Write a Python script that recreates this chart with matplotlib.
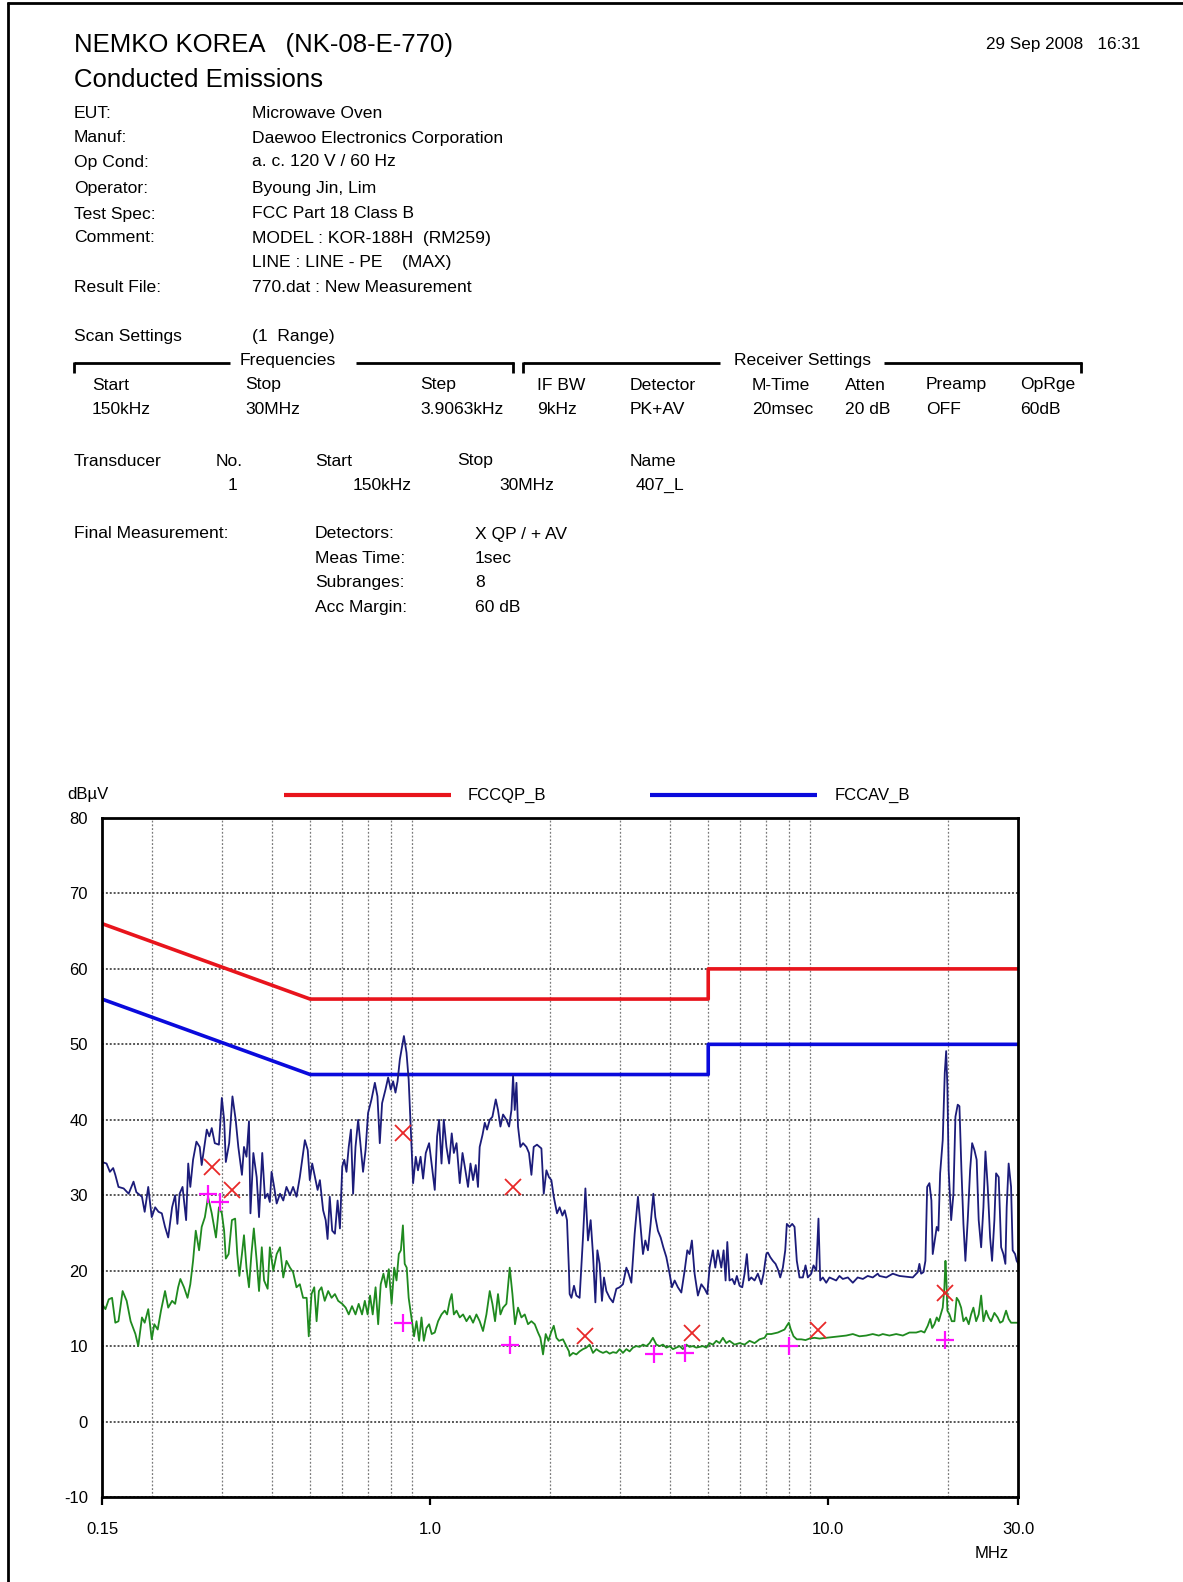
import matplotlib
matplotlib.use('Agg')
import matplotlib.pyplot as plt
from matplotlib.ticker import FixedLocator, NullFormatter
from matplotlib.lines import Line2D

plt.rcParams['font.family'] = ['Liberation Sans', 'DejaVu Sans']
plt.rcParams['axes.unicode_minus'] = False

# header info
info_labels = ['EUT:', 'Manuf:', 'Op Cond:', 'Operator:', 'Test Spec:', 'Comment:', '', 'Result File:']
info_values = ['Microwave Oven', 'Daewoo Electronics Corporation', 'a. c. 120 V / 60 Hz',
               'Byoung Jin, Lim', 'FCC Part 18 Class B', 'MODEL : KOR-188H  (RM259)',
               'LINE : LINE - PE    (MAX)', '770.dat : New Measurement']
scan_heads = ['Start', 'Stop', 'Step', 'IF BW', 'Detector', 'M-Time', 'Atten', 'Preamp', 'OpRge']
scan_vals = ['150kHz', '30MHz', '3.9063kHz', '9kHz', 'PK+AV', '20msec', '20 dB', 'OFF', '60dB']
final_labels = ['Detectors:', 'Meas Time:', 'Subranges:', 'Acc Margin:']
final_vals = ['X QP / + AV', '1sec', '8', '60 dB']

# limit lines (MHz, dBuV)
qp_lim_freq = [0.15, 0.5, 5.0, 5.0, 30.0]
qp_lim_level = [66, 56, 56, 60, 60]
av_lim_freq = [0.15, 0.5, 5.0, 5.0, 30.0]
av_lim_level = [56, 46, 46, 50, 50]

# peak scan (navy)
peak_freq = [
    0.150, 0.154, 0.157, 0.160, 0.162, 0.165, 0.170, 0.175, 0.180, 0.183,
    0.189, 0.192, 0.196, 0.200, 0.204, 0.208, 0.212, 0.216, 0.220, 0.225,
    0.229, 0.232, 0.235, 0.239, 0.244, 0.247, 0.250, 0.254, 0.259, 0.264,
    0.267, 0.271, 0.275, 0.279, 0.283, 0.288, 0.295, 0.300, 0.304, 0.307,
    0.313, 0.319, 0.325, 0.330, 0.337, 0.341, 0.346, 0.351, 0.354, 0.360,
    0.367, 0.372,
    0.379, 0.385, 0.391, 0.396, 0.400, 0.406, 0.412, 0.420, 0.428, 0.436,
    0.445, 0.453, 0.462, 0.471, 0.480, 0.485, 0.493, 0.499, 0.506, 0.514,
    0.522, 0.529, 0.539, 0.547, 0.553, 0.560, 0.568, 0.577, 0.586, 0.594,
    0.602, 0.609, 0.617, 0.625, 0.633, 0.641, 0.650, 0.660, 0.670, 0.679,
    0.689, 0.699, 0.713, 0.727, 0.738, 0.748, 0.758, 0.773, 0.785, 0.797,
    0.808, 0.819, 0.829, 0.840, 0.860, 0.873, 0.884, 0.895, 0.907,
    0.921, 0.933, 0.947, 0.961, 0.976, 0.995, 1.009, 1.028, 1.042, 1.054,
    1.069, 1.083, 1.100, 1.117, 1.134, 1.148, 1.166, 1.188, 1.207, 1.223,
    1.246, 1.264, 1.283, 1.303, 1.320, 1.333, 1.355, 1.373, 1.391, 1.413,
    1.435, 1.463, 1.482, 1.503, 1.526, 1.556, 1.580, 1.602, 1.617, 1.633,
    1.649, 1.664, 1.687, 1.713, 1.747, 1.773, 1.798, 1.822, 1.857, 1.905,
    1.931, 1.961, 1.990, 2.018, 2.046, 2.085, 2.117, 2.151, 2.180, 2.209,
    2.234,
    2.243, 2.266, 2.300, 2.332, 2.376, 2.423, 2.457, 2.494, 2.533, 2.567,
    2.603, 2.633, 2.668, 2.704, 2.736, 2.774, 2.827, 2.882, 2.939, 2.995,
    3.053, 3.114, 3.155, 3.205, 3.267, 3.330, 3.382, 3.428, 3.475, 3.528,
    3.583, 3.640, 3.682, 3.737, 3.797, 3.856, 3.924, 3.999, 4.053, 4.117,
    4.195, 4.279, 4.362, 4.430, 4.488, 4.549, 4.621, 4.710, 4.804, 4.896,
    4.973, 5.039, 5.137, 5.208, 5.287,
    5.392, 5.465, 5.528, 5.583, 5.655, 5.746, 5.823, 5.900, 5.994, 6.088,
    6.170, 6.252, 6.324, 6.414, 6.537, 6.662, 6.795, 6.886, 6.995, 7.059,
    7.157, 7.267, 7.380, 7.479, 7.583, 7.699, 7.806, 7.878, 8.002, 8.128,
    8.237, 8.346, 8.478, 8.642, 8.778, 8.895, 9.072, 9.194, 9.338, 9.460,
    9.556, 9.701, 9.894, 10.08, 10.28, 10.48, 10.68, 10.89, 11.21, 11.54,
    11.87, 12.23, 12.58, 12.95, 13.33,
    13.46, 14.00, 14.54, 15.11, 15.71, 16.32, 16.80, 16.96, 17.13, 17.36,
    17.56, 17.74, 17.97, 18.18, 18.32, 18.53, 18.75, 18.93, 19.12, 19.41,
    19.64, 19.80, 19.94, 20.09, 20.38, 20.65, 20.89, 21.17, 21.38, 21.63,
    21.88, 22.13, 22.43, 22.74, 23.01, 23.31, 23.62, 23.90, 24.24, 24.56,
    24.85, 25.18, 25.53, 25.82, 26.17, 26.43, 26.83, 27.21, 27.57, 27.89,
    28.10, 28.42, 28.82, 29.09, 29.50, 29.77, 30.0]
peak_level = [
    34.4, 34.2, 33.1, 33.6, 32.7, 31.1, 30.9, 30.2, 31.8, 30.4,
    29.8, 27.8, 31.1, 27.1, 28.4, 27.8, 27.6, 25.8, 24.4, 28.4,
    30.0, 26.2, 30.2, 31.1, 26.7, 34.2, 31.1, 34.7, 37.1, 36.4,
    34.0, 36.4, 38.7, 37.8, 38.9, 36.9, 36.7, 42.9, 40.0, 34.4,
    36.9, 43.1, 40.0, 36.4, 32.7, 36.4, 35.1, 39.8, 27.6, 35.6,
    32.4, 27.1,
    35.6, 29.6, 30.2, 29.1, 33.1, 31.1, 28.9, 30.2, 29.3, 31.1,
    30.0, 31.1, 29.8, 32.4, 35.6, 37.3, 36.0, 32.0, 34.2, 32.4,
    30.7, 32.0, 28.0, 26.7, 24.2, 29.8, 25.3, 24.9, 29.3, 25.6,
    33.8, 34.7, 33.1, 36.4, 38.7, 30.2, 36.4, 40.0, 36.4, 33.1,
    36.0, 40.9, 42.7, 44.9, 43.1, 36.9, 42.2, 44.0, 45.6, 44.0,
    45.1, 43.6, 45.1, 48.0, 51.1, 48.9, 45.3, 38.7, 31.6,
    35.1, 33.3, 35.1, 32.2, 35.6, 36.9, 34.2, 30.7, 37.8, 40.0,
    34.2, 40.0, 36.4, 34.2, 38.2, 35.6, 36.9, 31.6, 35.6, 33.8,
    31.1, 34.2, 32.0, 34.0, 31.1, 36.4, 38.0, 39.6, 38.7, 40.0,
    40.4, 42.7, 41.3, 39.1, 40.7, 40.0, 39.1, 41.3, 45.8, 41.3,
    44.9, 39.1, 36.4, 36.9, 36.4, 35.6, 32.7, 36.4, 36.7, 36.2,
    30.2, 33.3, 32.4, 32.0, 29.8, 27.6, 28.4, 27.3, 28.0, 26.7,
    20.0,
    16.9, 16.4, 18.0, 16.7, 16.4, 24.4, 30.9, 24.0, 26.7, 22.2,
    15.8, 22.7, 20.9, 16.0, 19.1, 17.3, 16.4, 15.8, 17.6, 17.8,
    18.2, 20.4, 19.6, 18.4, 24.9, 29.8, 25.8, 22.2, 24.0, 22.7,
    26.2, 30.2, 27.1, 25.3, 24.4, 23.1, 21.8, 19.6, 17.8, 18.7,
    17.8, 17.1, 20.0, 22.7, 22.2, 24.0, 19.6, 16.7, 18.2, 17.6,
    16.9, 20.4, 22.7, 20.4, 22.7,
    20.4, 22.7, 18.7, 23.8, 18.7, 18.9, 18.2, 19.3, 18.0, 17.8,
    19.6, 22.2, 18.7, 19.1, 18.7, 19.6, 18.2, 19.6, 22.2, 22.4,
    21.8, 21.3, 20.9, 20.2, 19.1, 20.4, 22.7, 26.2, 25.8, 26.2,
    25.8, 21.3, 19.1, 19.1, 20.7, 19.1, 19.6, 20.7, 20.0, 26.9,
    18.7, 19.1, 18.4, 19.1, 18.9, 18.7, 19.3, 18.9, 19.1, 18.4,
    19.1, 18.9, 19.3, 19.1, 19.6,
    19.3, 19.1, 19.6, 19.3, 19.2, 19.1, 19.8, 20.9, 19.6, 19.8,
    21.3, 31.1, 31.6, 29.3, 22.2, 24.0, 25.8, 25.3, 32.9, 37.3,
    46.2, 49.1, 44.4, 33.3, 26.7, 30.2, 40.4, 42.0, 41.8, 33.3,
    26.2, 21.3, 26.7, 33.3, 36.9, 36.0, 34.7, 26.7, 23.1, 28.4,
    35.8, 31.1, 24.4, 21.3, 26.7, 32.9, 32.4, 23.1, 22.2, 20.9,
    28.4, 34.2, 31.1, 22.7, 22.2, 21.3, 21.0]

# average scan (green)
avg_freq = [
    0.150, 0.153, 0.156, 0.159, 0.162, 0.165, 0.169, 0.173, 0.177, 0.182,
    0.185, 0.189, 0.192, 0.196, 0.200, 0.203, 0.207, 0.211, 0.216, 0.220,
    0.225, 0.229, 0.233, 0.236, 0.241, 0.246, 0.250, 0.254, 0.258, 0.263,
    0.267, 0.272, 0.277, 0.283, 0.290, 0.295, 0.300, 0.304, 0.307, 0.312,
    0.318, 0.324, 0.328, 0.332, 0.337, 0.341, 0.346, 0.351, 0.356, 0.361,
    0.367, 0.372,
    0.378, 0.383, 0.391, 0.396, 0.404, 0.412, 0.420, 0.428, 0.436, 0.445,
    0.453, 0.462, 0.471, 0.480, 0.490, 0.496, 0.504, 0.512, 0.519, 0.526,
    0.534, 0.544, 0.555, 0.566, 0.577, 0.588, 0.602, 0.614, 0.625, 0.637,
    0.650, 0.662, 0.675, 0.686, 0.697, 0.707, 0.718, 0.730, 0.741, 0.752,
    0.764, 0.776, 0.788, 0.801, 0.813, 0.824, 0.835, 0.845, 0.855, 0.864,
    0.874, 0.884, 0.899, 0.912,
    0.925, 0.939, 0.952, 0.965, 0.980, 0.995, 1.010, 1.028, 1.048, 1.069,
    1.089, 1.104, 1.121, 1.134, 1.148, 1.166, 1.188, 1.211, 1.235, 1.259,
    1.283, 1.308, 1.333, 1.359, 1.386, 1.413, 1.435, 1.457, 1.482, 1.503,
    1.526, 1.556, 1.586, 1.611, 1.635, 1.664, 1.697, 1.730, 1.763, 1.798,
    1.833, 1.868, 1.894, 1.923, 1.953, 1.984, 2.014, 2.046, 2.078, 2.109,
    2.158, 2.201, 2.234,
    2.243, 2.287, 2.332, 2.376, 2.423, 2.471, 2.518, 2.567, 2.618, 2.668,
    2.720, 2.774, 2.827, 2.882, 2.939, 2.995, 3.053, 3.114, 3.173, 3.235,
    3.299, 3.362, 3.428, 3.496, 3.562, 3.631, 3.704, 3.774, 3.848, 3.924,
    3.999, 4.077, 4.157, 4.237, 4.319, 4.405, 4.488, 4.576, 4.667, 4.756,
    4.848, 4.945, 5.039, 5.137, 5.239, 5.339, 5.443,
    5.551, 5.655, 5.823, 5.994, 6.170, 6.350, 6.537, 6.728, 6.926, 7.018,
    7.200, 7.338, 7.479, 7.628, 7.775, 7.878, 7.970, 8.063, 8.190, 8.346,
    8.563, 8.778, 8.982, 9.247, 9.517, 9.894, 10.28, 10.68, 11.11, 11.54,
    11.99, 12.47, 12.95, 13.41,
    13.72, 14.26, 14.83, 15.41, 16.01, 16.65, 17.13, 17.46, 17.80, 18.05,
    18.26, 18.50, 18.75, 18.97, 19.19, 19.41, 19.60, 19.72, 19.83, 19.94,
    20.18, 20.45, 20.77, 21.04, 21.29, 21.59, 21.88, 22.22, 22.56, 22.87,
    23.18, 23.55, 23.90, 24.24, 24.56, 24.95, 25.32, 25.68, 26.17, 26.67,
    27.05, 27.46, 28.00, 28.42, 28.82, 29.38, 29.77, 30.0]
avg_level = [
    15.6, 14.9, 16.2, 16.4, 13.1, 13.3, 17.3, 16.0, 13.3, 11.6,
    10.0, 13.8, 13.1, 14.9, 10.9, 12.9, 12.2, 14.7, 17.3, 15.1,
    16.0, 15.6, 17.8, 18.9, 17.8, 16.4, 18.2, 21.3, 25.3, 22.7,
    25.8, 27.1, 29.8, 27.6, 24.4, 28.4, 27.6, 25.3, 21.6, 22.2,
    26.7, 26.9, 22.2, 19.3, 22.2, 24.7, 20.4, 17.8, 22.2, 25.6,
    21.3, 17.3,
    23.1, 18.7, 17.6, 23.1, 20.0, 22.2, 23.1, 19.1, 21.3, 20.4,
    19.8, 17.8, 18.2, 16.4, 16.4, 11.3, 16.9, 17.8, 13.3, 17.3,
    17.8, 16.0, 17.3, 16.4, 16.9, 16.0, 15.6, 15.1, 14.2, 15.3,
    14.2, 15.6, 14.2, 16.0, 14.2, 16.7, 14.2, 17.8, 12.9, 18.2,
    19.6, 17.8, 20.2, 15.6, 20.4, 18.7, 22.2, 22.7, 26.0, 20.9,
    20.4, 16.4, 13.6, 11.3,
    13.3, 10.7, 13.8, 10.7, 12.4, 12.9, 11.6, 11.8, 13.3, 14.2,
    14.7, 14.2, 16.0, 16.9, 14.2, 14.7, 13.8, 14.2, 13.3, 14.0,
    13.1, 14.2, 13.3, 12.0, 14.2, 17.3, 15.6, 13.3, 16.9, 14.2,
    15.1, 15.6, 20.4, 16.9, 12.9, 15.1, 13.8, 14.2, 12.9, 13.3,
    12.9, 11.8, 11.1, 8.9, 11.6, 10.7, 11.8, 12.7, 11.1, 10.7,
    10.9, 10.0, 9.3,
    8.7, 9.1, 8.9, 9.3, 9.6, 9.8, 10.2, 9.1, 9.6, 9.3,
    9.1, 9.3, 9.0, 9.2, 9.1, 9.6, 9.1, 9.6, 9.3, 9.8,
    10.0, 9.9, 10.2, 10.0, 10.4, 11.1, 10.2, 10.0, 10.2, 9.8,
    10.0, 9.6, 9.8, 10.0, 9.6, 10.2, 9.9, 10.0, 9.8, 9.9,
    10.0, 9.8, 10.4, 10.2, 10.7, 10.4, 11.1,
    10.4, 10.7, 10.2, 10.4, 10.2, 10.7, 10.4, 10.9, 11.1, 11.6,
    11.6, 11.7, 11.8, 12.0, 12.2, 12.7, 13.1, 12.2, 11.3, 10.9,
    10.9, 10.8, 11.0, 11.1, 11.0, 11.1, 11.2, 11.3, 11.4, 11.6,
    11.3, 11.4, 11.6, 11.4,
    11.6, 11.4, 11.6, 11.4, 11.8, 11.8, 12.0, 11.8, 12.7, 13.6,
    12.4, 12.9, 13.8, 13.3, 14.2, 15.1, 17.8, 21.3, 18.7, 14.7,
    14.2, 13.3, 13.3, 16.4, 16.0, 15.1, 13.3, 13.8, 12.9, 14.2,
    15.1, 13.3, 14.2, 16.7, 13.3, 14.7, 13.8, 13.3, 14.4, 13.8,
    13.1, 13.3, 14.7, 13.6, 13.1, 13.1, 13.1, 13.1]

# final measurement points
qp_freq = [0.283, 0.319, 0.857, 1.617, 2.457, 4.54, 9.46, 19.72]
qp_level = [33.8, 30.7, 38.3, 31.1, 11.3, 11.8, 12.2, 17.1]
av_freq = [0.277, 0.296, 0.857, 1.586, 3.65, 4.36, 7.96, 19.72]
av_level = [30.2, 29.1, 13.1, 10.2, 8.9, 9.1, 10.0, 10.8]

W, H = 1183, 1582
fig = plt.figure(figsize=(W / 100, H / 100), dpi=100)


def put(x, y, s, size=12.6, **kw):
    fig.text(x / W, 1 - y / H, s, fontsize=size, va='center', **kw)


def hline(x0, x1, y0, y1, color='black', lw=2):
    fig.add_artist(Line2D([x0 / W, x1 / W], [1 - y0 / H, 1 - y1 / H],
                          transform=fig.transFigure, color=color, lw=lw,
                          solid_capstyle='butt'))


# page border (top and left edges visible)
hline(7, 1183, 3, 3)
hline(8, 8, 2, 1582)

put(74, 45, 'NEMKO KOREA   (NK-08-E-770)', size=18.5)
put(74, 80, 'Conducted Emissions', size=18.5)
put(1140, 45, '29 Sep 2008   16:31', size=12.3, ha='right')

row_y = [114, 138, 162, 188, 214, 238, 263, 287]
for lab, val, y in zip(info_labels, info_values, row_y):
    put(74, y, lab)
    put(252, y, val)

put(74, 336, 'Scan Settings')
put(252, 336, '(1  Range)')

# bracket lines around scan settings
hline(74, 230, 363, 363)
hline(356, 514, 363, 363)
hline(74, 74, 362, 373)
hline(513, 513, 362, 373)
put(288, 360, 'Frequencies', ha='center')
hline(523, 720, 363, 363)
hline(884, 1082, 363, 363)
hline(523, 523, 362, 373)
hline(1081, 1081, 362, 373)
put(803, 360, 'Receiver Settings', ha='center')

scan_x = [92, 245, 420, 537, 630, 752, 845, 926, 1020]
for hx, head, val in zip(scan_x, scan_heads, scan_vals):
    put(hx, 385, head)
    put(hx, 410, val)

put(74, 461, 'Transducer')
put(216, 461, 'No.')
put(315, 461, 'Start')
put(457, 461, 'Stop')
put(630, 461, 'Name')
put(228, 485, '1')
put(353, 485, '150kHz')
put(499, 485, '30MHz')
put(636, 485, '407_L')

put(74, 534, 'Final Measurement:')
for i, (lab, val) in enumerate(zip(final_labels, final_vals)):
    y = 534 + i * 24.5
    put(315, y, lab)
    put(475, y, val)

# legend above plot
put(67, 795, 'dBµV', size=12)
hline(284, 451, 795, 795, color='#e8141c', lw=3)
put(468, 795, 'FCCQP_B', size=12)
hline(650, 817, 795, 795, color='#0a0adc', lw=3)
put(835, 795, 'FCCAV_B', size=12)

# chart
ax = fig.add_axes([102 / W, 1 - 1497 / H, 916 / W, 679 / H])
ax.set_xscale('log')
ax.set_xlim(0.15, 30)
ax.set_ylim(-10, 80)

ax.xaxis.set_major_locator(FixedLocator([0.15, 1, 10, 30]))
ax.set_xticklabels(['0.15', '1.0', '10.0', '30.0'], fontsize=12)
ax.xaxis.set_minor_locator(FixedLocator([0.2, 0.3, 0.4, 0.5, 0.6, 0.7, 0.8, 0.9, 1,
                                         2, 3, 4, 5, 6, 7, 8, 9, 10, 20]))
ax.xaxis.set_minor_formatter(NullFormatter())
ax.tick_params(axis='x', which='major', direction='out', length=6, width=1.6, pad=12)
ax.tick_params(axis='x', which='minor', length=0)
ax.set_yticks(range(-10, 81, 10))
ax.tick_params(axis='y', length=0, pad=10, labelsize=12)
ax.grid(True, axis='x', which='minor', color='#7a7a7a', lw=0.9, ls=(0, (1.5, 1.5)))
ax.grid(True, axis='y', which='major', color='#555555', lw=1.4, ls=(0, (1, 1)))
ax.grid(False, axis='x', which='major')
for sp in ax.spines.values():
    sp.set_linewidth(2)

ax.plot(qp_lim_freq, qp_lim_level, color='#e8141c', lw=2.6)
ax.plot(av_lim_freq, av_lim_level, color='#0a0adc', lw=2.6)
ax.plot(peak_freq, peak_level, color='#1c1c7a', lw=1.3)
ax.plot(avg_freq, avg_level, color='#1f8a1f', lw=1.3)
ax.plot(qp_freq, qp_level, ls='none', marker='x', ms=12, mew=1.3, color='#e82828')
ax.plot(av_freq, av_level, ls='none', marker='+', ms=13, mew=1.6, color='#ff10ff')

put(992, 1553, 'MHz', size=12, ha='center')

fig.savefig('out.png', dpi=100)
